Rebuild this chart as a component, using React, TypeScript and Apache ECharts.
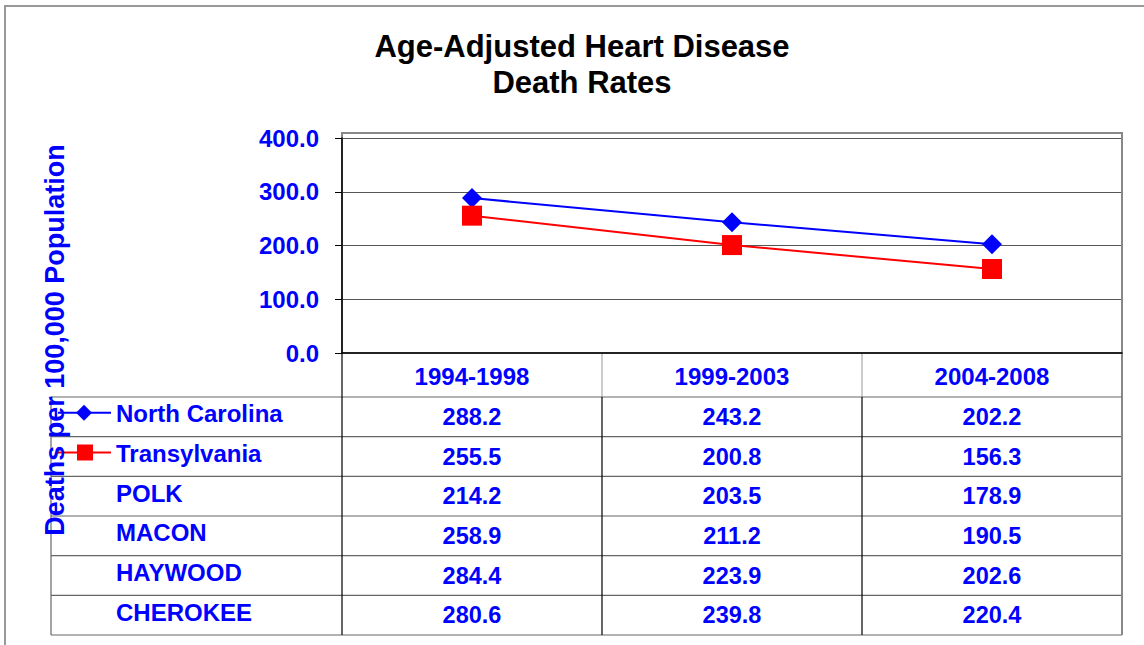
import React, { useEffect, useRef } from "react";
import * as echarts from "echarts";

const periods = ["1994-1998", "1999-2003", "2004-2008"];
const regionNames = ["North Carolina", "Transylvania", "POLK", "MACON", "HAYWOOD", "CHEROKEE"];
const northCarolina = [288.2, 243.2, 202.2];
const transylvania = [255.5, 200.8, 156.3];
const polk = [214.2, 203.5, 178.9];
const macon = [258.9, 211.2, 190.5];
const haywood = [284.4, 223.9, 202.6];
const cherokee = [280.6, 239.8, 220.4];
const tableRows = [northCarolina, transylvania, polk, macon, haywood, cherokee];
const yMin = 0;
const yMax = 400;
const yStep = 100;

const FONT = "'Liberation Sans', Arial, sans-serif";
const BLUE = "#0000FF";
const RED = "#FF0000";

export default function App() {
  const ref = useRef<HTMLDivElement>(null);
  useEffect(() => {
    if (!ref.current) return;
    const chart = echarts.init(ref.current, null, { renderer: "svg" });
    const gridLeft = 342;
    const gridRight = 1122;
    const gridTop = 138;
    const gridBottom = 353;
    chart.setOption({
      animation: false,
      backgroundColor: "#ffffff",
      grid: { left: gridLeft, right: 1144 - gridRight, top: gridTop, bottom: 645 - gridBottom, containLabel: false },
      xAxis: {
        type: "category",
        data: periods,
        boundaryGap: true,
        axisLine: { show: true, lineStyle: { color: "#000", width: 1.5 } },
        axisTick: { show: false },
        axisLabel: { color: BLUE, fontWeight: "bold", fontSize: 24, fontFamily: FONT, margin: 11 },
        splitLine: { show: false },
      },
      yAxis: {
        type: "value",
        min: yMin,
        max: yMax,
        interval: yStep,
        axisLine: { show: true, lineStyle: { color: "#000", width: 1.5 } },
        axisTick: { show: true, inside: false, length: 7, lineStyle: { color: "#000" } },
        axisLabel: {
          color: BLUE,
          fontWeight: "bold",
          fontSize: 24,
          fontFamily: FONT,
          margin: 23,
          formatter: (v: number) => v.toFixed(1),
        },
        splitLine: { show: true, lineStyle: { color: "#555", width: 1 } },
      },
      series: [
        {
          name: regionNames[0],
          type: "line",
          data: northCarolina,
          symbol: "diamond",
          symbolSize: 20,
          lineStyle: { color: BLUE, width: 2 },
          itemStyle: { color: BLUE },
          z: 3,
        },
        {
          name: regionNames[1],
          type: "line",
          data: transylvania,
          symbol: "rect",
          symbolSize: 20,
          lineStyle: { color: RED, width: 2 },
          itemStyle: { color: RED },
          z: 4,
        },
      ],
    });

    const centers = periods.map((p) => chart.convertToPixel({ xAxisIndex: 0 }, p) as number);
    const colW = centers.length > 1 ? centers[1] - centers[0] : gridRight - gridLeft;
    const colEdges = [centers[0] - colW / 2, ...centers.map((c) => c + colW / 2)];
    const headerBottom = 397;
    const rowH = (635 - headerBottom) / tableRows.length;
    const tableLeft = 51;
    const tableRight = colEdges[colEdges.length - 1];

    const g: any[] = [];
    // outer border
    g.push({ type: "rect", shape: { x: 5, y: 6, width: 1300, height: 1000 }, style: { fill: "none", stroke: "#999", lineWidth: 2 }, z: 0 });
    // plot box
    g.push({ type: "rect", shape: { x: gridLeft, y: 133, width: gridRight - gridLeft, height: gridBottom - 133 }, style: { fill: "none", stroke: "#888", lineWidth: 2 }, z: 0 });
    // header row separators
    colEdges.slice(1).forEach((x, i) => {
      const last = i === colEdges.length - 2;
      g.push({ type: "line", shape: { x1: x, y1: gridBottom, x2: x, y2: headerBottom }, style: { stroke: last ? "#888" : "#999", lineWidth: last ? 2 : 1 } });
    });
    // data rows horizontal lines
    for (let i = 0; i <= tableRows.length; i++) {
      const y = headerBottom + i * rowH;
      g.push({ type: "line", shape: { x1: tableLeft, y1: y, x2: tableRight, y2: y }, style: { stroke: "#666", lineWidth: 1.2 } });
    }
    // vertical lines in data rows
    g.push({ type: "line", shape: { x1: tableLeft, y1: headerBottom, x2: tableLeft, y2: 635 }, style: { stroke: "#666", lineWidth: 1.2 } });
    g.push({ type: "line", shape: { x1: colEdges[0], y1: gridBottom, x2: colEdges[0], y2: 635 }, style: { stroke: "#000", lineWidth: 1.2 } });
    colEdges.slice(1).forEach((x, i) => {
      const last = i === colEdges.length - 2;
      g.push({ type: "line", shape: { x1: x, y1: headerBottom, x2: x, y2: 635 }, style: { stroke: last ? "#888" : "#000", lineWidth: last ? 2 : 1.2 } });
    });
    // values
    tableRows.forEach((row, r) => {
      const cy = headerBottom + (r + 0.5) * rowH;
      row.forEach((v, c) => {
        g.push({ type: "text", style: { text: v.toFixed(1), x: centers[c], y: cy, align: "center", verticalAlign: "middle", fill: BLUE, font: `bold 23.5px ${FONT}` } });
      });
      g.push({ type: "text", style: { text: regionNames[r], x: 116, y: cy - 3, align: "left", verticalAlign: "middle", fill: BLUE, font: `bold 24px ${FONT}` } });
    });
    // legend keys
    const ly0 = headerBottom + 0.5 * rowH - 4;
    g.push({ type: "line", shape: { x1: 58, y1: ly0, x2: 111, y2: ly0 }, style: { stroke: BLUE, lineWidth: 2 }, z: 5 });
    g.push({ type: "polygon", shape: { points: [[84, ly0 - 8], [92, ly0], [84, ly0 + 8], [76, ly0]] }, style: { fill: BLUE }, z: 5 });
    const ly1 = headerBottom + 1.5 * rowH - 4;
    g.push({ type: "line", shape: { x1: 58, y1: ly1, x2: 111, y2: ly1 }, style: { stroke: RED, lineWidth: 2 }, z: 5 });
    g.push({ type: "rect", shape: { x: 77, y: ly1 - 8, width: 16, height: 16 }, style: { fill: RED }, z: 5 });
    // y axis title
    g.push({ type: "text", x: 55, y: 340, rotation: Math.PI / 2, style: { text: "Deaths per 100,000 Population", x: 0, y: 0, align: "center", verticalAlign: "middle", fill: BLUE, font: `bold 27px ${FONT}` }, z: 6 });
    // title
    g.push({ type: "text", style: { text: "Age-Adjusted Heart Disease\nDeath Rates", x: 582, y: 64, align: "center", verticalAlign: "middle", fill: "#000", font: `bold 31px ${FONT}`, lineHeight: 36 } });

    chart.setOption({ graphic: { elements: g } });
    return () => chart.dispose();
  }, []);
  return <div ref={ref} style={{ position: "fixed", left: 0, top: 0, width: 1144, height: 645 }} />;
}
